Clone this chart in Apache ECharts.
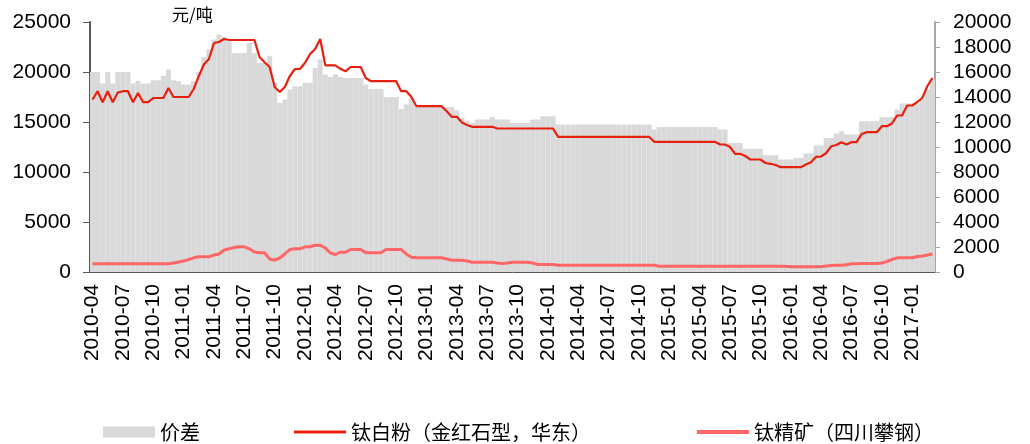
<!DOCTYPE html>
<html>
<head>
<meta charset="utf-8">
<script src="https://cdn.jsdelivr.net/npm/echarts@6/dist/echarts.min.js"></script>
<style>
html,body{margin:0;padding:0;background:#fff;}
#chart{width:1030px;height:444px;}
</style>
</head>
<body>
<div id="chart"></div>
<script>
// Half-month periods from 2010-04-01 to 2017-03-01 (1st and 16th of each month)
const startYear = 2010, startMonth = 4, periodCount = 167;
const periods = [];
for (let i = 0; i < periodCount; i++) {
  const mi = startMonth - 1 + Math.floor(i / 2);
  const y = startYear + Math.floor(mi / 12);
  const mo = (mi % 12) + 1;
  periods.push(y + '-' + String(mo).padStart(2, '0') + '-' + (i % 2 ? '16' : '01'));
}

const seriesNames = ['价差', '钛白粉（金红石型，华东）', '钛精矿（四川攀钢）'];
const unitLabel = '元/吨';

// 价差 (right axis, 元/吨)
const spread = [
  // 2010 Apr-Dec
  16000,16000,15080,16000,15080,16000,16000,16000,15080,15300,15080,15080,15350,15350,15700,16200,15350,15270,
  // 2011
  15000,15000,15270,16000,17200,17800,18600,19000,18800,18470,17530,17530,17530,18330,17500,16730,16730,17270,15130,13530,13800,14600,14870,14870,
  // 2012
  15130,15130,16330,17000,15800,15600,15800,15600,15530,15530,15530,15530,15000,14650,14650,14650,14010,14010,14010,13050,13400,13930,13210,13210,
  // 2013
  13210,13210,13210,13210,13210,13210,12950,12330,12100,11930,12200,12200,12200,12410,12200,12200,12200,11930,11930,11930,11930,12200,12200,12470,
  // 2014
  12470,12470,11800,11800,11800,11800,11800,11800,11800,11800,11800,11800,11800,11800,11800,11800,11800,11800,11800,11800,11800,11400,11610,11610,
  // 2015
  11610,11610,11610,11610,11610,11610,11610,11610,11610,11610,11400,11400,10330,10330,10330,9850,9850,9850,9850,9350,9350,9350,9000,9000,
  // 2016
  9000,9130,9130,9480,9480,10120,10120,10730,10730,11080,11270,11000,11000,11000,12070,12070,12070,12070,12410,12410,12410,13000,13480,13480,
  // 2017 Jan-Mar
  13480,13480,13800,14600,15400
];

// 钛白粉（金红石型，华东）(left axis, 元/吨)
const tio2 = [
  // 2010 Apr-Dec
  17250,18080,16980,18080,16980,17950,18080,18080,16980,17900,16980,16980,17400,17400,17400,18400,17500,17500,
  // 2011
  17500,17500,18300,19580,20750,21300,22900,23000,23300,23200,23200,23200,23200,23200,23200,21500,20980,20500,18500,18000,18500,19600,20300,20300,
  // 2012
  20930,21800,22300,23300,20670,20670,20670,20320,20070,20500,20500,20500,19400,19080,19080,19080,19080,19080,19080,18080,18080,17520,16580,16580,
  // 2013
  16580,16580,16580,16580,16080,15520,15520,14950,14700,14520,14520,14520,14520,14520,14350,14350,14350,14350,14350,14350,14350,14350,14350,14350,
  // 2014
  14350,14350,13520,13520,13520,13520,13520,13520,13520,13520,13520,13520,13520,13520,13520,13520,13520,13520,13520,13520,13520,13020,13020,13020,
  // 2015
  13020,13020,13020,13020,13020,13020,13020,13020,13020,13020,12750,12750,12500,11820,11820,11600,11250,11250,11250,10900,10820,10700,10480,10480,
  // 2016
  10480,10480,10480,10750,10980,11520,11550,11900,12580,12700,12980,12750,12980,12980,13800,13980,13980,13980,14580,14580,14850,15650,15650,16650,
  // 2017 Jan-Mar
  16650,17000,17420,18600,19400
];

// 钛精矿（四川攀钢）(left axis, 元/吨)
const ilmenite = [
  // 2010 Apr-Dec
  820,820,820,820,820,820,820,820,820,820,820,820,820,820,820,820,900,1000,
  // 2011
  1090,1250,1420,1520,1520,1520,1700,1800,2200,2320,2450,2520,2520,2320,2000,1920,1920,1300,1180,1400,1800,2250,2320,2320,
  // 2012
  2520,2520,2680,2680,2400,1920,1750,1980,1980,2250,2250,2250,1920,1920,1920,1920,2250,2250,2250,2250,1800,1480,1420,1420,
  // 2013
  1420,1420,1420,1420,1300,1180,1180,1180,1100,980,980,980,980,980,900,850,900,980,980,980,980,900,750,750,
  // 2014
  750,750,680,680,680,680,680,680,680,680,680,680,680,680,680,680,680,680,680,680,680,680,580,580,
  // 2015
  580,580,580,580,580,580,580,580,580,580,580,580,580,580,580,580,580,580,580,580,580,580,580,580,
  // 2016
  520,520,520,520,520,520,520,600,650,680,680,720,820,820,850,850,850,850,900,1050,1250,1420,1420,1420,
  // 2017 Jan-Mar
  1420,1550,1600,1700,1800
];

const leftTicks = {min: 0, max: 25000, interval: 5000};
const rightTicks = {min: 0, max: 20000, interval: 2000};

function isQuarterStart(value) {
  const p = value.split('-');
  return p[2] === '01' && ((parseInt(p[1], 10) - 1) % 3 === 0);
}

const numFont = '"Liberation Sans", Arial, sans-serif';
const cjkFont = '"Noto Sans CJK SC", sans-serif';
const legendText = {fontSize: 20, fontFamily: cjkFont, color: '#000'};

const chart = echarts.init(document.getElementById('chart'), null, {renderer: 'canvas'});
chart.setOption({
  animation: false,
  backgroundColor: '#ffffff',
  grid: {left: 90, right: 95, top: 22, bottom: 172, containLabel: false},
  graphic: [{
    type: 'text', left: 172, top: 6,
    style: {text: unitLabel, font: '17px ' + cjkFont, fill: '#000'}
  }],
  legend: [
    {data: [{name: seriesNames[0], icon: 'rect'}], left: 98, top: 417, itemWidth: 52, itemHeight: 11,
     textStyle: legendText},
    {data: [{name: seriesNames[1], icon: 'rect'}], left: 289, top: 417, itemWidth: 52, itemHeight: 3,
     textStyle: legendText},
    {data: [{name: seriesNames[2], icon: 'rect'}], left: 692, top: 417, itemWidth: 52, itemHeight: 4,
     textStyle: legendText}
  ],
  xAxis: {
    type: 'category',
    data: periods,
    boundaryGap: true,
    axisLine: {lineStyle: {color: '#595959', width: 1}},
    axisTick: {interval: (i, v) => isQuarterStart(v), length: 6, lineStyle: {color: '#333'}},
    axisLabel: {
      interval: (i, v) => isQuarterStart(v),
      rotate: 90, margin: 12,
      fontSize: 21, fontFamily: numFont, color: '#000',
      formatter: v => v.slice(0, 7)
    },
    splitLine: {show: false}
  },
  yAxis: [
    {
      type: 'value', position: 'left',
      min: leftTicks.min, max: leftTicks.max, interval: leftTicks.interval,
      axisLine: {show: true, lineStyle: {color: '#595959', width: 2}},
      axisTick: {show: true, length: 7, lineStyle: {color: '#595959'}},
      axisLabel: {margin: 19, fontSize: 21, fontFamily: numFont, color: '#000', formatter: v => String(v)},
      splitLine: {show: false}
    },
    {
      type: 'value', position: 'right',
      min: rightTicks.min, max: rightTicks.max, interval: rightTicks.interval,
      axisLine: {show: true, lineStyle: {color: '#A6A6A6', width: 2}},
      axisTick: {show: true, length: 5, lineStyle: {color: '#A6A6A6'}},
      axisLabel: {margin: 18, fontSize: 21, fontFamily: numFont, color: '#000', formatter: v => String(v)},
      splitLine: {show: false}
    }
  ],
  series: [
    {
      name: seriesNames[0], type: 'bar', yAxisIndex: 1,
      data: spread, barCategoryGap: '0%', barGap: '0%',
      itemStyle: {color: '#D9D9D9'}
    },
    {
      name: seriesNames[1], type: 'line', yAxisIndex: 0,
      data: tio2, symbol: 'none',
      lineStyle: {color: '#E8200F', width: 2.2}, itemStyle: {color: '#E8200F'}
    },
    {
      name: seriesNames[2], type: 'line', yAxisIndex: 0,
      data: ilmenite, symbol: 'none',
      lineStyle: {color: '#FF6666', width: 3}, itemStyle: {color: '#FF6666'}
    }
  ]
});
</script>
</body>
</html>
